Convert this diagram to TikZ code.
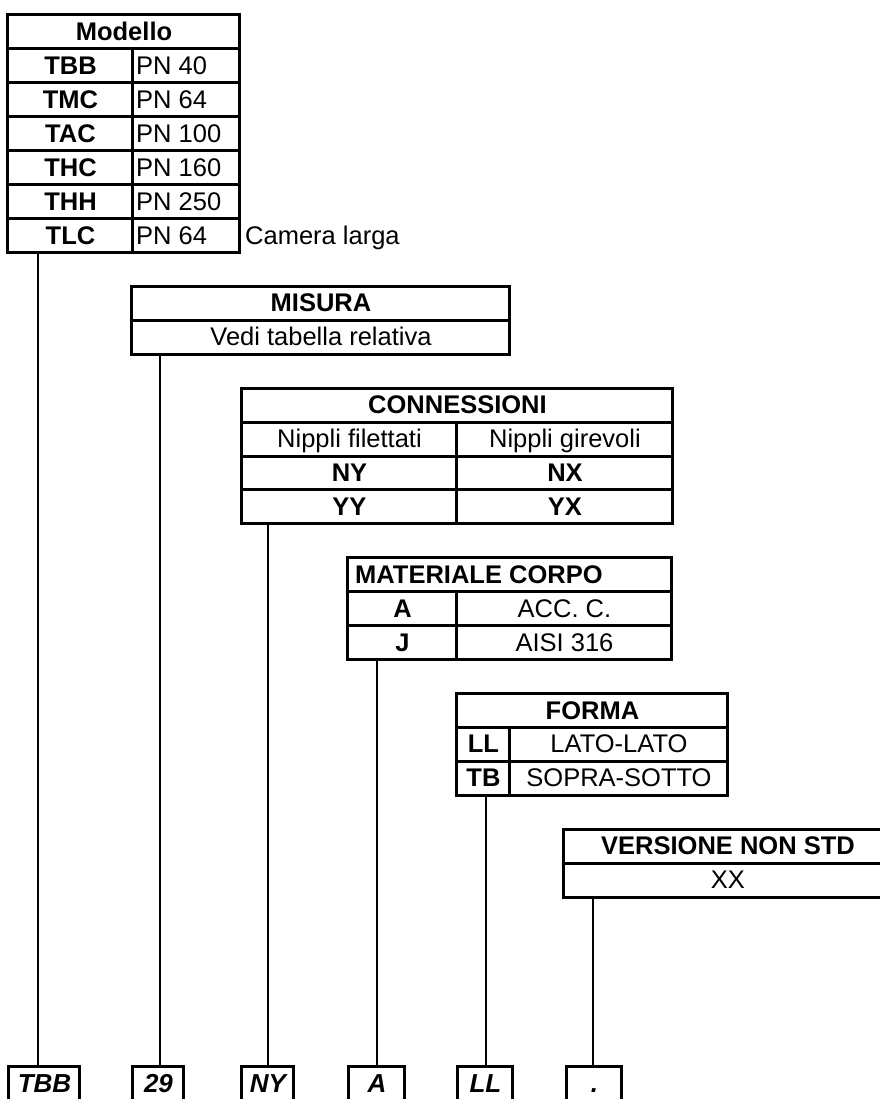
\documentclass[tikz,border=0pt]{standalone}
\usepackage{fontspec}
\setmainfont{Liberation Sans}
\usetikzlibrary{fit}

\begin{document}
\begin{tikzpicture}[x=1pt, y=-33.93pt,
    frame/.style={draw, line width=3pt, inner sep=0pt},
    rule/.style={line width=3pt},
    link/.style={line width=1.8pt},
    txt/.style={anchor=base, inner sep=0pt, font=\fontsize{25.5}{28}\selectfont},
    txtl/.style={txt, anchor=base west},
    hd/.style={txt, font=\fontsize{25.5}{28}\selectfont\bfseries},
    codebox/.style={draw, line width=3pt, inner sep=0pt},
    codetxt/.style={anchor=base, inner sep=0pt, font=\fontsize{26}{28}\selectfont\bfseries\itshape}]
    \useasboundingbox (0,-0.442) rectangle (880,31.95);
    \clip (0,-0.442) rectangle (880,31.95);

    % Modello
    \node[frame, fit={(8,0) (240,7)}] (modello) {};
    \foreach \r in {1,...,6}
        \draw[rule] (8,\r) -- (240,\r);
    \draw[rule] (133,1) -- (133,7);
    \node[hd] (modello-hd) at (124,0.75) {Modello};
    \foreach \c/\p [count=\r] in {TBB/PN 40, TMC/PN 64, TAC/PN 100, THC/PN 160, THH/PN 250, TLC/PN 64} {
        \node[hd] (mod-c\r) at (70.5,\r+0.75) {\c};
        \node[txtl] (mod-p\r) at (136,\r+0.75) {\p};
    }
    \node[txtl] (camera) at (245,6.75) {Camera larga};

    % Misura
    \node[frame, fit={(132,8) (510,10)}] (misura) {};
    \draw[rule] (132,9) -- (510,9);
    \node[hd] (misura-hd) at (321,8.75) {MISURA};
    \node[txt] (misura-v) at (321,9.75) {Vedi tabella relativa};

    % Connessioni
    \node[frame, fit={(242,11) (673,15)}] (conn) {};
    \foreach \r in {12,13,14}
        \draw[rule] (242,\r) -- (673,\r);
    \draw[rule] (457,12) -- (457,15);
    \node[hd] (conn-hd) at (457.5,11.75) {CONNESSIONI};
    \node[txt] (conn-a) at (349.5,12.75) {Nippli filettati};
    \node[txt] (conn-b) at (565,12.75) {Nippli girevoli};
    \node[hd] (conn-ny) at (349.5,13.75) {NY};
    \node[hd] (conn-nx) at (565,13.75) {NX};
    \node[hd] (conn-yy) at (349.5,14.75) {YY};
    \node[hd] (conn-yx) at (565,14.75) {YX};

    % Materiale corpo
    \node[frame, fit={(348,16) (672,19)}] (mat) {};
    \foreach \r in {17,18}
        \draw[rule] (348,\r) -- (672,\r);
    \draw[rule] (457,17) -- (457,19);
    \node[hd, anchor=base west] (mat-hd) at (355,16.75) {MATERIALE CORPO};
    \node[hd] (mat-a) at (402.5,17.75) {A};
    \node[txt] (mat-acc) at (564.5,17.75) {ACC. C.};
    \node[hd] (mat-j) at (402.5,18.75) {J};
    \node[txt] (mat-aisi) at (564.5,18.75) {AISI 316};

    % Forma
    \node[frame, fit={(457,20) (728,23)}] (forma) {};
    \foreach \r in {21,22}
        \draw[rule] (457,\r) -- (728,\r);
    \draw[rule] (510,21) -- (510,23);
    \node[hd] (forma-hd) at (592.5,20.75) {FORMA};
    \node[hd] (forma-ll) at (483.5,21.75) {LL};
    \node[txt] (forma-lato) at (619,21.75) {LATO-LATO};
    \node[hd] (forma-tb) at (483.5,22.75) {TB};
    \node[txt] (forma-sopra) at (619,22.75) {SOPRA-SOTTO};

    % Versione non std
    \node[frame, fit={(564,24) (892,26)}] (vers) {};
    \draw[rule] (564,25) -- (892,25);
    \node[hd] (vers-hd) at (728,24.75) {VERSIONE NON STD};
    \node[txt] (vers-xx) at (728,25.75) {XX};

    % codice
    \foreach \l/\r/\t [count=\i] in {9/80/TBB, 133/184/29, 242/294/NY, 349/405/A, 458/513/LL, 567/622/.} {
        \node[codebox, fit={(\l,31) (\r,32.3)}] (code\i) {};
        \node[codetxt] (codetxt\i) at ({(\l+\r)/2},31.77) {\t};
    }

    % linee
    \foreach \x/\tab [count=\i] in {38/modello, 160/misura, 268/conn, 377/mat, 486/forma, 593/vers} {
        \coordinate (drop\i) at (\x,0);
        \draw[link] (drop\i |- \tab.south) -- (drop\i |- code\i.north);
    }
\end{tikzpicture}
\end{document}
